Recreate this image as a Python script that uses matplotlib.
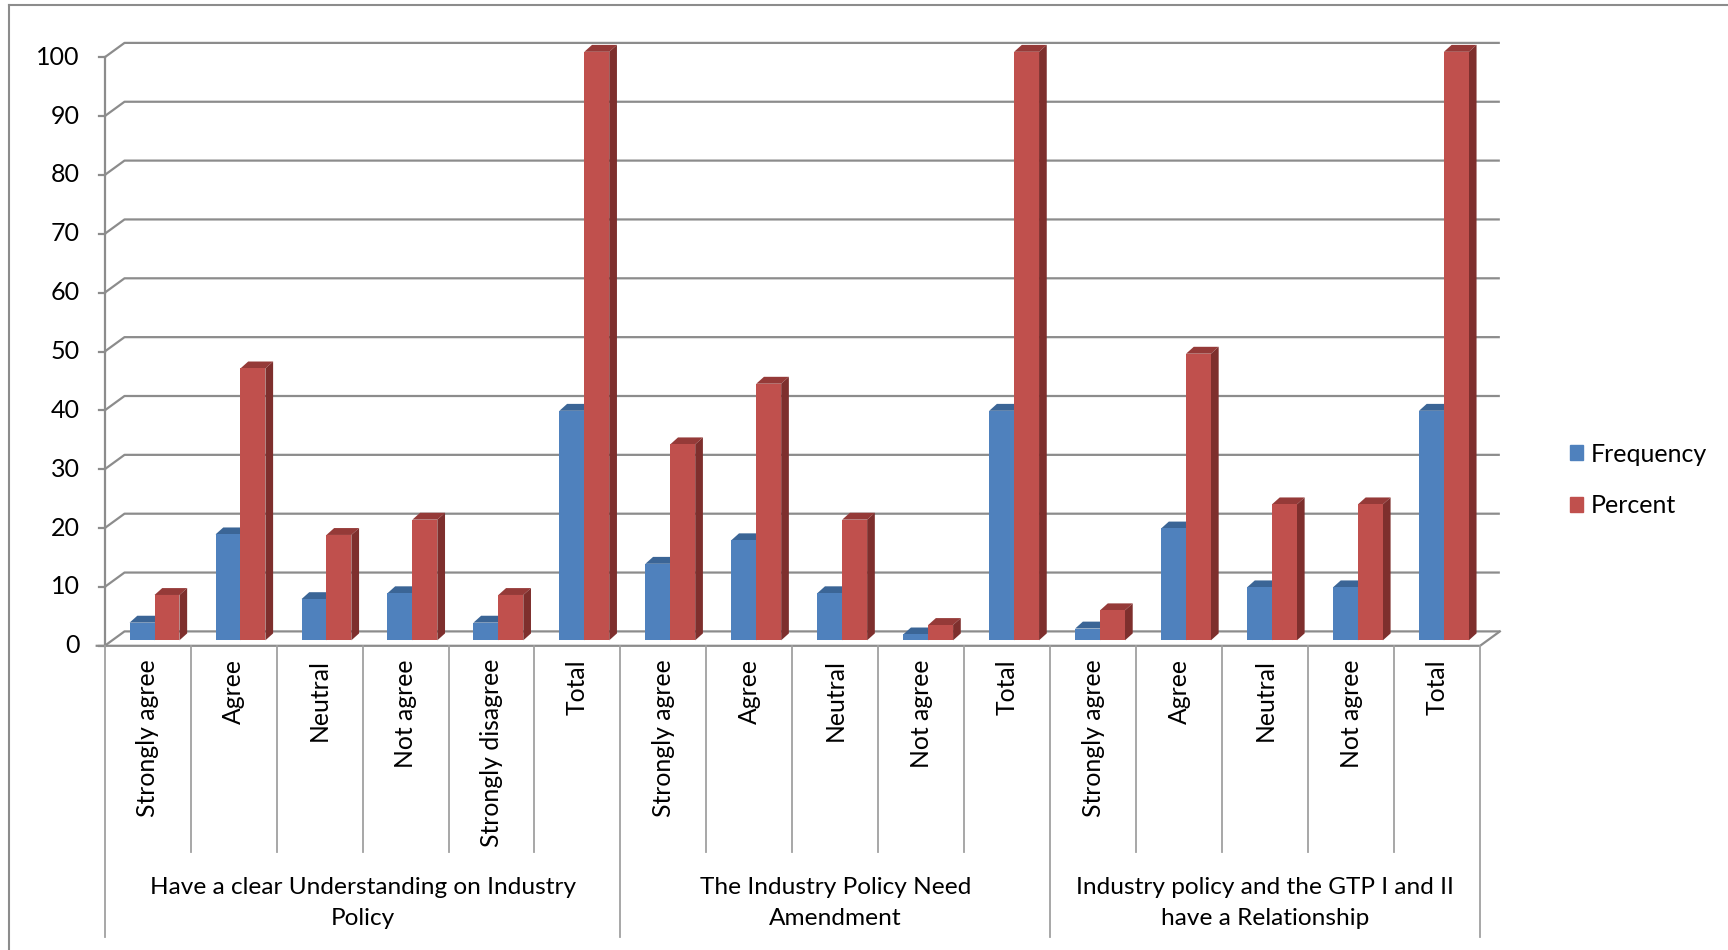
import numpy as np
import matplotlib.pyplot as plt
from matplotlib.patches import Polygon, Patch
from matplotlib.lines import Line2D

plt.rcParams['font.family'] = ['Lato', 'DejaVu Sans']

# survey answers per question
groups = ['Have a clear Understanding on Industry\nPolicy',
          'The Industry Policy Need\nAmendment',
          'Industry policy and the GTP I and II\nhave a Relationship']
group_sizes = [6, 5, 5]
categories = ['Strongly agree', 'Agree', 'Neutral', 'Not agree', 'Strongly disagree', 'Total',
              'Strongly agree', 'Agree', 'Neutral', 'Not agree', 'Total',
              'Strongly agree', 'Agree', 'Neutral', 'Not agree', 'Total']
frequency = [3, 18, 7, 8, 3, 39, 13, 17, 8, 1, 39, 2, 19, 9, 9, 39]
percent = [7.7, 46.2, 17.9, 20.5, 7.7, 100, 33.3, 43.6, 20.5, 2.6, 100, 5.1, 48.7, 23.1, 23.1, 100]
yticks = list(range(0, 101, 10))

W, H = 1728, 950
fig = plt.figure(figsize=(W / 100, H / 100), dpi=100)

# pixel scale of the plotting plane
sx = 85.96   # px per category slot
sy = 5.885   # px per value unit
x0_px, y0_px = 112.4, 640.3
n = len(categories)
ax = fig.add_axes([x0_px / W, (H - y0_px) / H, n * sx / W, 100 * sy / H])
ax.set_xlim(0, n)
ax.set_ylim(0, 100)
ax.axis('off')

def val(ypix):
    return (y0_px - ypix) / sy

# fake 3d offsets (front plane, back wall, bar depth)
fx, fy = -7.7 / sx, -5.5 / sy
bx, by = 12.1 / sx, 8.9 / sy
dx, dy = 7.7 / sx, 6.9 / sy

grid_c = '#8c8c8c'
blue, blue_top = '#4f81bd', '#3b6596'
red, red_top, red_side = '#c0504d', '#953a38', '#7e2f2d'

# back wall gridlines with the little diagonal to the front axis
for v in yticks:
    ax.plot([fx, bx, n + bx], [v + fy, v + by, v + by], color=grid_c, lw=1.6,
            clip_on=False, zorder=1, solid_capstyle='butt')
    ax.plot([fx - 6 / sx, fx], [v + fy, v + fy], color=grid_c, lw=1.6, clip_on=False, zorder=1)
    ax.text(fx - 25 / sx, v + fy, str(v), ha='right', va='center', fontsize=18, color='black')

ax.plot([fx, fx], [fy, 100 + fy], color=grid_c, lw=1.6, clip_on=False, zorder=1)
ax.plot([fx - 8 / sx, n + fx, n + bx], [fy, fy, by], color=grid_c, lw=1.6, clip_on=False, zorder=1)

# category separators below the axis
edges = np.cumsum([0] + group_sizes)
for k in range(n + 1):
    bottom = val(937) if k in edges else val(852)
    ax.plot([k + fx, k + fx], [fy, bottom], color='#a0a0a0', lw=1.3, clip_on=False, zorder=1)

# bars: front face via ax.bar, top/side faces as polygons
xs = np.arange(n)
bw = 0.29
ax.bar(xs + 0.2, frequency, width=bw, align='edge', color=blue, lw=0, zorder=3, clip_on=False)
ax.bar(xs + 0.2 + bw, percent, width=bw, align='edge', color=red, lw=0, zorder=5, clip_on=False)
for i in range(n):
    for left, v, top_c, zt in [(i + 0.2, frequency[i], blue_top, 2),
                               (i + 0.2 + bw, percent[i], red_top, 4)]:
        right = left + bw
        ax.add_patch(Polygon([(left, v), (right, v), (right + dx, v + dy), (left + dx, v + dy)],
                             closed=True, color=top_c, lw=0, zorder=zt, clip_on=False))
        ax.add_patch(Polygon([(right, 0), (right, v), (right + dx, v + dy), (right + dx, dy)],
                             closed=True, color=red_side if top_c == red_top else blue_top,
                             lw=0, zorder=zt, clip_on=False))

for i, cat in enumerate(categories):
    ax.text(i + 0.5 + fx, val(659), cat, rotation=90, ha='center', va='top', fontsize=17.8)

for g, name in enumerate(groups):
    cx = edges[g] + group_sizes[g] / 2 + fx
    ax.text(cx, val(903), name, ha='center', va='center', fontsize=17.6,
            multialignment='center', linespacing=1.62)

fig.legend(handles=[Patch(color=blue), Patch(color=red)], labels=['Frequency', 'Percent'],
           loc='center left', bbox_to_anchor=(1547 / W, 1 - 480 / H), frameon=False,
           handlelength=0.55, handleheight=0.55, handletextpad=0.3, labelspacing=1.15,
           fontsize=18)

# outer chart frame (top and left edges)
fig.add_artist(Line2D([9 / W, 1], [1 - 5 / H, 1 - 5 / H], transform=fig.transFigure,
                      color='#8c8c8c', lw=1.5))
fig.add_artist(Line2D([9 / W, 9 / W], [0, 1 - 5 / H], transform=fig.transFigure,
                      color='#8c8c8c', lw=1.5))

fig.savefig('out.png', dpi=100)
